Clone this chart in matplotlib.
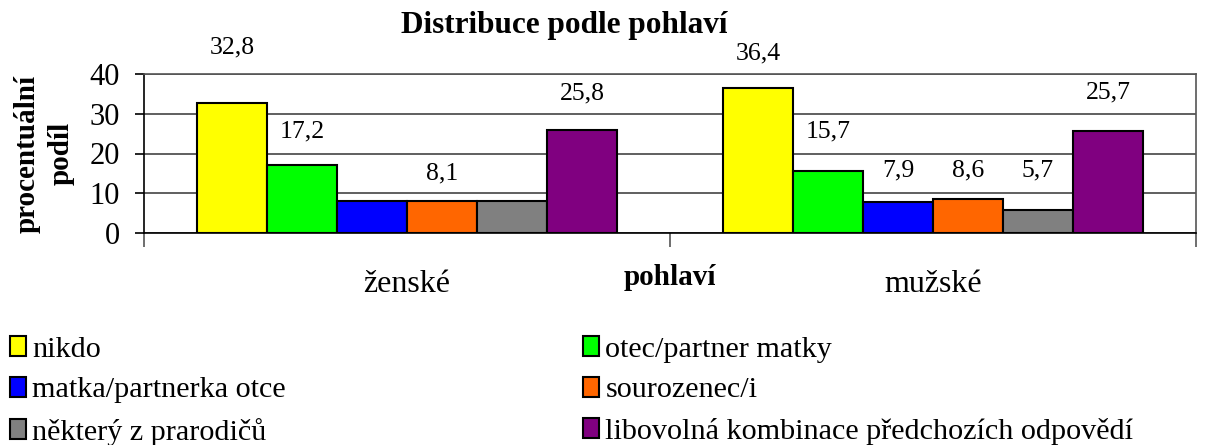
import matplotlib
matplotlib.use("Agg")
import matplotlib.pyplot as plt
import numpy as np

plt.rcParams['font.family'] = ['Liberation Serif', 'DejaVu Serif']

# data
categories = ["ženské", "mužské"]
series = ["nikdo", "otec/partner matky", "matka/partnerka otce",
          "sourozenec/i", "některý z prarodičů",
          "libovolná kombinace předchozích odpovědí"]
zenske = [32.8, 17.2, 8.1, 8.1, 8.1, 25.8]
muzske = [36.4, 15.7, 7.9, 8.6, 5.7, 25.7]
# which value labels are shown in the original
show_zenske = [True, True, False, True, False, True]
show_muzske = [True, True, True, True, True, True]
colors = ["#FFFF00", "#00FF00", "#0000FF", "#FF6600", "#808080", "#800080"]

# label offsets above bar top (points), hand placed like in the source chart
off_zenske = [40, 24, 0, 19.5, 0, 26.6]
off_muzske = [25, 28.5, 22.7, 20.7, 28.8, 27.4]

fig = plt.figure(figsize=(12.05, 4.45), dpi=100)
ax = fig.add_axes([144/1205, 1-233/445, (1196-144)/1205, (233-74)/445])

x = np.arange(len(categories))
w = 0.133
vals = [zenske, muzske]
shows = [show_zenske, show_muzske]
offs = [off_zenske, off_muzske]

bars = []
for i, name in enumerate(series):
    h = [vals[0][i], vals[1][i]]
    b = ax.bar(x + (i - 2.5) * w, h, width=w, color=colors[i],
               edgecolor="black", linewidth=1.5, label=name, zorder=3)
    bars.append(b)
    for j in range(len(categories)):
        if shows[j][i]:
            txt = f"{h[j]:.1f}".replace(".", ",")
            ax.annotate(txt, (x[j] + (i - 2.5) * w, h[j]),
                        xytext=(0, offs[j][i]), textcoords="offset points",
                        ha="center", va="center", fontsize=18.5,
                        annotation_clip=False)

ax.set_ylim(0, 40)
ax.set_yticks([0, 10, 20, 30, 40])
ax.set_xlim(-0.5, 1.5)
ax.set_xticks([-0.5, 0.5, 1.5])
ax.set_xticklabels([])
ax.set_xticks(x, minor=True)
ax.set_xticklabels(categories, minor=True, fontsize=23)
ax.tick_params(axis="x", which="minor", length=0, pad=27)
ax.tick_params(axis="x", which="major", length=10, width=1.2, color="#555555")
ax.tick_params(axis="y", length=6.5, width=1.2, labelsize=22, pad=11)

ax.yaxis.grid(True, color="#444444", linewidth=1.2, zorder=0)
ax.spines["left"].set_linewidth(1.2)
ax.spines["bottom"].set_linewidth(1.2)
for s in ["top", "right"]:
    ax.spines[s].set_color("#555555")
    ax.spines[s].set_linewidth(1.2)

ax.set_xlabel("pohlaví", fontweight="bold", fontsize=21)
ax.xaxis.set_label_coords(0.5, -0.283)
ax.xaxis.label.set_va("center")
ax.set_ylabel("procentuální\npodíl", fontweight="bold", fontsize=21,
              linespacing=1.35)
ax.yaxis.set_label_coords(-(144 - 44) / 1052, 0.5)
ax.yaxis.label.set_va("center")

fig.text(564/1205, 1-25/445, "Distribuce podle pohlaví", ha="center",
         va="center", fontweight="bold", fontsize=22.5)

order = [0, 2, 4, 1, 3, 5]
handles = [bars[k] for k in order]
labels = [series[k] for k in order]
fig.legend(handles, labels, ncol=2, loc="upper left",
           bbox_to_anchor=(0.008, 0.245), frameon=False, fontsize=21.7,
           handlelength=0.55, handleheight=0.65, handletextpad=0.2,
           labelspacing=0.47, columnspacing=9.85, borderpad=0, borderaxespad=0)

fig.savefig("out.png", dpi=100)
